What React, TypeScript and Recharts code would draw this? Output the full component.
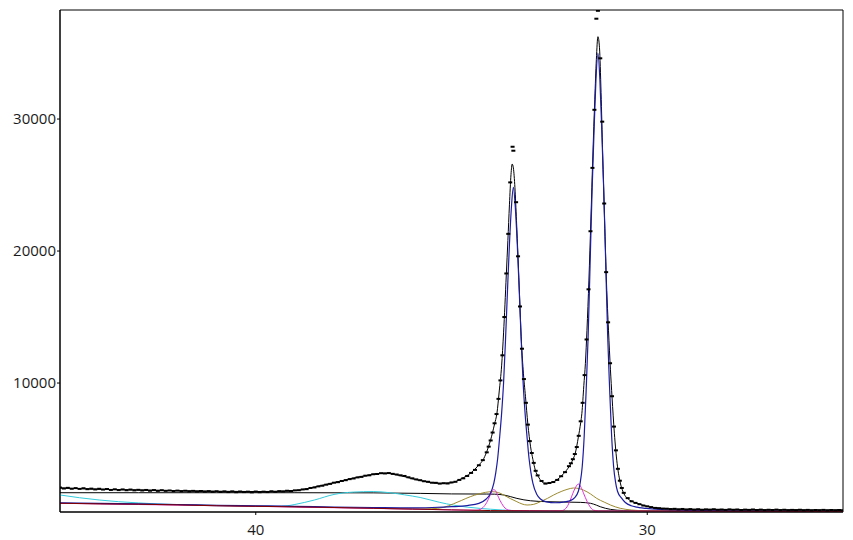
import { ComposedChart, Line, Scatter, XAxis, YAxis, ReferenceArea } from 'recharts';

type Pt = [number, number];

const X_TICKS = [40, 30];
const Y_TICKS = [10000, 20000, 30000];
const X_DOMAIN: [number, number] = [25, 45];
const Y_DOMAIN: [number, number] = [230, 38260];

// measured intensities (dots)
const observed: Pt[] = [
  [45.0, 2080], [44.9, 2010], [44.8, 2060], [44.7, 1990], [44.6, 2040], [44.5, 1980], [44.4, 2030], [44.3, 1960],
  [44.2, 2000], [44.1, 1940], [44.0, 1990], [43.9, 1930], [43.8, 1970], [43.7, 1900], [43.6, 1950], [43.5, 1890],
  [43.4, 1940], [43.3, 1880], [43.2, 1930], [43.1, 1870], [43.0, 1910], [42.9, 1860], [42.8, 1900], [42.7, 1840],
  [42.6, 1890], [42.5, 1830], [42.4, 1880], [42.3, 1830], [42.2, 1860], [42.1, 1810], [42.0, 1850], [41.9, 1800],
  [41.8, 1840], [41.7, 1790], [41.6, 1830], [41.5, 1780], [41.4, 1820], [41.3, 1770], [41.2, 1810], [41.1, 1760],
  [41.0, 1800], [40.9, 1750], [40.8, 1790], [40.7, 1740], [40.6, 1790], [40.5, 1730], [40.4, 1780], [40.3, 1740],
  [40.2, 1770], [40.1, 1720], [40.0, 1780], [39.9, 1730], [39.8, 1770], [39.7, 1740], [39.6, 1800], [39.5, 1760],
  [39.4, 1810], [39.3, 1790], [39.2, 1840], [39.1, 1820], [39.0, 1870], [38.9, 1880], [38.8, 1940], [38.7, 1960],
  [38.6, 2050], [38.5, 2090], [38.4, 2170], [38.3, 2220], [38.2, 2300], [38.1, 2360], [38.0, 2450], [37.9, 2490],
  [37.8, 2580], [37.7, 2640], [37.6, 2720], [37.5, 2770], [37.4, 2850], [37.3, 2890], [37.2, 2980], [37.1, 3010],
  [37.0, 3090], [36.9, 3110], [36.8, 3170], [36.7, 3150], [36.6, 3180], [36.5, 3120], [36.4, 3070], [36.3, 3010],
  [36.2, 2960], [36.1, 2860], [36.0, 2780], [35.9, 2700], [35.8, 2640], [35.7, 2560], [35.6, 2520], [35.5, 2450],
  [35.4, 2440], [35.3, 2380], [35.2, 2410], [35.1, 2390], [35.0, 2470], [34.9, 2520], [34.8, 2660], [34.7, 2780],
  [34.6, 2960], [34.5, 3190], [34.4, 3420], [34.3, 3770], [34.2, 4160], [34.1, 4750], [34.05, 5180], [34.0, 5650],
  [33.95, 6250], [33.9, 6950], [33.85, 7650], [33.8, 8800], [33.75, 10200], [33.7, 12100], [33.65, 15000],
  [33.6, 18300], [33.55, 21300], [33.5, 25200], [33.44, 27900], [33.42, 27600], [33.35, 23700], [33.3, 19600],
  [33.25, 15800], [33.2, 12600], [33.15, 10300], [33.1, 8500], [33.05, 6850], [33.0, 5600], [32.95, 4700],
  [32.9, 3950], [32.85, 3350], [32.8, 3000], [32.7, 2580], [32.6, 2380], [32.5, 2430], [32.4, 2500], [32.3, 2660],
  [32.2, 2940], [32.1, 3250], [32.0, 3700], [31.95, 3920], [31.9, 4230], [31.85, 4620], [31.8, 5150], [31.75, 6000],
  [31.7, 7100], [31.65, 8500], [31.6, 10600], [31.55, 13300], [31.5, 17100], [31.45, 21500], [31.4, 26300],
  [31.35, 30700], [31.3, 37600], [31.26, 38200], [31.2, 34600], [31.15, 29800], [31.1, 23600], [31.05, 18400],
  [31.0, 14600], [30.95, 11500], [30.9, 9000], [30.85, 6700], [30.8, 4900], [30.75, 3500], [30.7, 2600],
  [30.65, 2050], [30.6, 1680], [30.5, 1280], [30.4, 1040], [30.3, 920], [30.2, 820], [30.1, 720], [30.0, 660],
  [29.9, 600], [29.8, 540], [29.7, 520], [29.6, 490], [29.5, 480], [29.4, 450], [29.3, 470], [29.2, 430],
  [29.1, 460], [29.0, 420], [28.9, 450], [28.8, 410], [28.7, 440], [28.6, 400], [28.5, 430], [28.4, 410],
  [28.3, 440], [28.2, 400], [28.1, 420], [28.0, 390], [27.9, 430], [27.8, 400], [27.7, 420], [27.6, 380],
  [27.5, 410], [27.4, 390], [27.3, 420], [27.2, 380], [27.1, 410], [27.0, 370], [26.9, 400], [26.8, 380],
  [26.7, 410], [26.6, 370], [26.5, 400], [26.4, 360], [26.3, 390], [26.2, 370], [26.1, 400], [26.0, 360],
  [25.9, 390], [25.8, 350], [25.7, 380], [25.6, 360], [25.5, 390], [25.4, 350], [25.3, 380], [25.2, 360],
  [25.1, 380], [25.0, 350],
];

// total fitted profile
const totalFit: Pt[] = [
  [45, 2050], [44, 1950], [43, 1900], [42, 1850], [41, 1800], [40, 1780], [39.5, 1790], [39, 1850],
  [38.5, 2120], [38, 2460], [37.5, 2800], [37, 3080], [36.7, 3170], [36.4, 3050], [36.0, 2750], [35.6, 2500],
  [35.3, 2400], [35.0, 2450], [34.75, 2750], [34.5, 3200], [34.3, 3800], [34.2, 4150], [34.1, 4800], [34.0, 5700],
  [33.9, 6900], [33.84, 7700], [33.78, 9400], [33.72, 11300], [33.67, 13800], [33.6, 18200], [33.56, 20800],
  [33.52, 23500], [33.48, 25800], [33.45, 26590], [33.42, 26300], [33.38, 24800], [33.34, 22300], [33.3, 19500],
  [33.26, 16500], [33.22, 13500], [33.17, 11000], [33.11, 8960], [33.05, 6900], [32.98, 5170], [32.92, 4200],
  [32.86, 3410], [32.78, 2900], [32.7, 2550], [32.64, 2420], [32.55, 2400], [32.45, 2450], [32.39, 2520],
  [32.25, 2800], [32.13, 3160], [32.0, 3650], [31.9, 4200], [31.84, 4670], [31.76, 5900], [31.7, 7000],
  [31.67, 7700], [31.62, 9800], [31.58, 11490], [31.54, 14000], [31.49, 17800], [31.44, 22350], [31.39, 27200],
  [31.34, 31500], [31.3, 34500], [31.26, 36240], [31.22, 35400], [31.18, 32000], [31.14, 27500], [31.09, 22350],
  [31.04, 17500], [30.99, 14000], [30.94, 11000], [30.9, 8960], [30.84, 6200], [30.77, 3920], [30.7, 2600],
  [30.6, 1640], [30.5, 1250], [30.4, 1050], [30.26, 890], [30.0, 650], [29.84, 550], [29.5, 470], [29, 430],
  [28, 410], [27, 400], [26, 390], [25, 380],
];

// sum of the broad/minor contributions
const minorSum: Pt[] = [
  [45, 1690], [43, 1690], [41, 1690], [39, 1690], [37, 1680], [35.8, 1640], [35, 1600], [34.1, 1590],
  [33.9, 1580], [33.67, 1520], [33.5, 1400], [33.33, 1260], [33.15, 1150], [32.98, 1080], [32.56, 1010],
  [31.71, 960], [31.45, 890], [31.3, 750], [31.2, 630], [30.94, 430], [30.6, 340], [30, 310], [25, 290],
];

// main doublet (two sharp peaks)
const mainPeaks: Pt[] = [
  [45, 920], [44, 880], [43, 840], [42, 800], [41, 740], [40, 700], [39, 660], [38, 610], [37, 570], [36, 540],
  [35.5, 570], [35.0, 630], [34.6, 720], [34.3, 880], [34.12, 1200], [34.02, 1550], [33.92, 2400], [33.87, 3200],
  [33.82, 4300], [33.77, 5900], [33.72, 7700], [33.67, 10000], [33.62, 13300], [33.57, 17000], [33.52, 20500],
  [33.47, 23300], [33.42, 24830], [33.37, 23300], [33.32, 20500], [33.27, 17000], [33.22, 13300], [33.17, 10000],
  [33.12, 7700], [33.07, 5900], [33.02, 4300], [32.97, 3200], [32.92, 2400], [32.82, 1550], [32.72, 1200],
  [32.57, 1000], [32.35, 930], [32.11, 1000], [31.96, 1100], [31.86, 1300], [31.76, 1800], [31.71, 2500],
  [31.66, 3700], [31.61, 6000], [31.56, 9500], [31.51, 13500], [31.46, 19000], [31.41, 24500], [31.36, 29000],
  [31.31, 33000], [31.26, 35000], [31.21, 33000], [31.16, 29000], [31.11, 24500], [31.06, 19000], [31.01, 13500],
  [30.96, 9500], [30.91, 6000], [30.86, 3700], [30.81, 2500], [30.76, 1800], [30.66, 1300], [30.56, 950],
  [30.41, 700], [30.26, 600], [29.96, 480], [29.56, 400], [29, 360], [28, 320], [27, 300], [25, 285],
];

// broad amorphous humps
const broadHumps: Pt[] = [
  [45, 1520], [44.5, 1310], [44, 1140], [43.5, 1010], [43, 920], [42.5, 840], [42, 785], [41.5, 740],
  [41, 705], [40.5, 680], [40, 665], [39.5, 650], [39.2, 700], [39, 800], [38.5, 1140], [38, 1560],
  [37.5, 1740], [37, 1780], [36.6, 1700], [36.2, 1530], [35.8, 1330], [35.3, 960], [34.95, 750], [34.6, 600],
  [34.26, 500], [34, 440], [33.7, 380], [33.4, 340], [33, 322], [32, 312], [30, 302], [25, 282],
];

// shoulder peaks (olive)
const shoulderWide: Pt[] = [
  [45, 895], [42, 775], [39, 625], [37, 515], [36, 460], [35.5, 480], [35.2, 580], [34.95, 850], [34.75, 1100],
  [34.52, 1390], [34.3, 1600], [34.13, 1720], [33.96, 1770], [33.8, 1700], [33.67, 1520], [33.5, 1250],
  [33.33, 1010], [33.2, 840], [33.07, 760], [32.9, 810], [32.73, 1010], [32.55, 1260], [32.39, 1520],
  [32.2, 1780], [32.05, 1940], [31.88, 2050], [31.75, 2010], [31.63, 1890], [31.45, 1600], [31.29, 1260],
  [31.1, 980], [30.94, 760], [30.69, 510], [30.4, 380], [30, 320], [28, 295], [25, 282],
];

// shoulder peaks (magenta)
const shoulderNarrow: Pt[] = [
  [45, 890], [40, 660], [36, 450], [35, 390], [34.4, 360], [34.3, 390], [34.2, 560], [34.1, 950], [34.02, 1450],
  [33.96, 1800], [33.92, 1940], [33.87, 1800], [33.8, 1350], [33.72, 880], [33.63, 520], [33.54, 370],
  [33.4, 335], [32.5, 312], [32.2, 320], [32.12, 400], [32.05, 620], [31.97, 1100], [31.9, 1650], [31.83, 2100],
  [31.76, 2350], [31.69, 2100], [31.62, 1600], [31.54, 1050], [31.46, 620], [31.38, 380], [31.25, 310],
  [30, 300], [25, 280],
];

// background
const background: Pt[] = [
  [45, 890], [44, 850], [43, 820], [42, 770], [41, 700], [40, 660], [39, 620], [38, 570], [37, 510],
  [36, 450], [35, 390], [34, 340], [33, 320], [32, 310], [31, 305], [30, 300], [28, 290], [26, 282], [25, 280],
];

const rows = (pts: Pt[]) => pts.map(([x, y]) => ({ x, y }));

const tickStyle = { fill: '#1a1a1a', fontSize: 15, fontFamily: 'Open Sans' };

const Dot = (props: any) => (
  <rect x={props.cx - 2} y={props.cy - 1} width={4} height={2} fill="#000" />
);

const curves: { name: string; data: Pt[]; color: string; width: number }[] = [
  { name: 'fit', data: totalFit, color: '#000000', width: 1 },
  { name: 'minor', data: minorSum, color: '#000000', width: 1 },
  { name: 'broad', data: broadHumps, color: '#33ccdd', width: 1 },
  { name: 'wide', data: shoulderWide, color: '#9c8a2e', width: 1 },
  { name: 'narrow', data: shoulderNarrow, color: '#e030d8', width: 1 },
  { name: 'main', data: mainPeaks, color: '#1c1ca0', width: 1.2 },
  { name: 'bg', data: background, color: '#800000', width: 1 },
];

export default function App() {
  return (
    <div style={{ position: 'absolute', left: 0, top: 0, width: 853, height: 540, background: '#fff' }}>
      <ComposedChart width={853} height={540} margin={{ top: 10, right: 10, bottom: 0, left: 0 }}>
        <XAxis
          dataKey="x"
          type="number"
          domain={X_DOMAIN}
          reversed
          ticks={X_TICKS}
          allowDataOverflow
          height={28}
          tickSize={3}
          tickMargin={9}
          axisLine={{ stroke: '#000' }}
          tickLine={{ stroke: '#000' }}
          tick={tickStyle}
        />
        <YAxis
          dataKey="y"
          type="number"
          domain={Y_DOMAIN}
          ticks={Y_TICKS}
          allowDataOverflow
          width={60}
          tickSize={3}
          tickMargin={1}
          axisLine={{ stroke: '#000' }}
          tickLine={{ stroke: '#000' }}
          tick={tickStyle}
        />
        <ReferenceArea
          x1={X_DOMAIN[0]}
          x2={X_DOMAIN[1]}
          y1={Y_DOMAIN[0]}
          y2={Y_DOMAIN[1]}
          fill="none"
          stroke="#000"
          strokeWidth={1}
          ifOverflow="visible"
        />
        <Scatter name="observed" data={rows(observed)} dataKey="y" shape={Dot} isAnimationActive={false} />
        {curves.map((c) => (
          <Line
            key={c.name}
            name={c.name}
            data={rows(c.data)}
            dataKey="y"
            type="monotone"
            stroke={c.color}
            strokeWidth={c.width}
            dot={false}
            activeDot={false}
            isAnimationActive={false}
          />
        ))}
      </ComposedChart>
    </div>
  );
}
